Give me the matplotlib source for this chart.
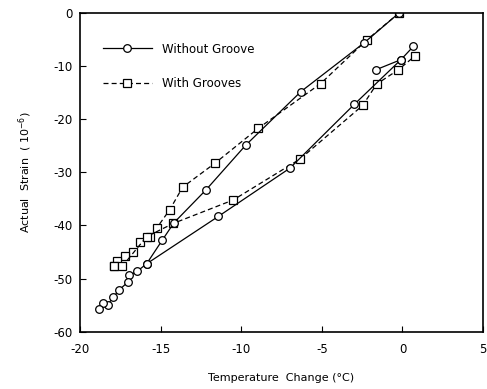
#!/usr/bin/env python
"""Actual strain vs temperature change, with / without grooves."""
import matplotlib

matplotlib.use("Agg")
import matplotlib.pyplot as plt

# Without groove (circles): cooling branch, then warming branch
nog_cool_t = [-0.2, -2.36, -6.29, -9.72, -12.18, -14.17, -14.9, -15.86, -16.44, -16.94,
              -17.04, -17.56, -17.93, -18.28, -18.59, -18.84]
nog_cool_s = [0.0, -5.6, -14.8, -24.9, -33.3, -39.5, -42.8, -47.2, -48.6, -49.4,
              -50.7, -52.1, -53.5, -54.9, -54.5, -55.7]
nog_warm_t = [-15.86, -11.42, -6.97, -2.98, -0.09, 0.68]
nog_warm_s = [-47.2, -38.3, -29.2, -17.2, -8.8, -6.3]
nog_extra_t = [-1.64, -0.09]
nog_extra_s = [-10.7, -8.8]

# With grooves (squares)
wg_cool_t = [-0.2, -2.21, -5.07, -8.93, -11.63, -13.63, -14.42, -15.24, -15.66, -16.28,
             -16.69, -17.2, -17.69, -17.89]
wg_cool_s = [0.0, -5.1, -13.3, -21.7, -28.3, -32.8, -37.0, -40.5, -42.1, -43.1,
             -44.9, -45.7, -46.6, -47.7]
wg_warm_t = [-17.89, -17.38, -15.86, -14.2, -10.49, -6.35, -2.46, -1.6, -0.25, 0.78]
wg_warm_s = [-47.7, -47.7, -42.1, -39.6, -35.2, -27.5, -17.4, -13.4, -10.7, -8.1]

x_ticks = [-20, -15, -10, -5, 0, 5]
y_ticks = [0, -10, -20, -30, -40, -50, -60]

plt.rcParams["font.family"] = ["DejaVu Sans"]

fig = plt.figure(figsize=(4.87, 3.89), dpi=100)
ax = fig.add_axes([0.164, 0.147, 0.828, 0.820])

circ = dict(color="black", lw=0.9, marker="o", ms=5.5, mfc="white", mec="black", mew=0.9)
sq = dict(color="black", lw=0.9, ls=(0, (4, 2.5)), marker="s", ms=5.2, mfc="white",
          mec="black", mew=0.9)

ax.plot(wg_cool_t, wg_cool_s, label="With Grooves", **sq)
ax.plot(wg_warm_t, wg_warm_s, **sq)
ax.plot(nog_cool_t, nog_cool_s, label="Without Groove", **circ)
ax.plot(nog_warm_t, nog_warm_s, **circ)
ax.plot(nog_extra_t, nog_extra_s, **circ)

ax.set_xlim(-20, 5)
ax.set_ylim(-60, 0)
ax.set_xticks(x_ticks)
ax.set_yticks(y_ticks)
ax.set_xticklabels(["-20", "-15", "-10", "-5", "0", "5"])
ax.set_yticklabels(["0", "-10", "-20", "-30", "-40", "-50", "-60"])
ax.tick_params(direction="in", length=4, width=0.8, labelsize=8.5, pad=5)
ax.tick_params(axis="x", pad=8)
for sp in ax.spines.values():
    sp.set_linewidth(1.2)

ax.set_xlabel("Temperature  Change (°C)", fontsize=8, labelpad=12)
ax.set_ylabel("Actual  Strain  ( 10$^{-6}$)", fontsize=8, labelpad=14)

h, l = ax.get_legend_handles_labels()
ax.legend(h[::-1], l[::-1], loc="upper left", bbox_to_anchor=(0.03, 0.94), frameon=False,
          handlelength=4.2, handletextpad=0.8, labelspacing=1.8, fontsize=8.5)

fig.savefig("out.png", dpi=100)
